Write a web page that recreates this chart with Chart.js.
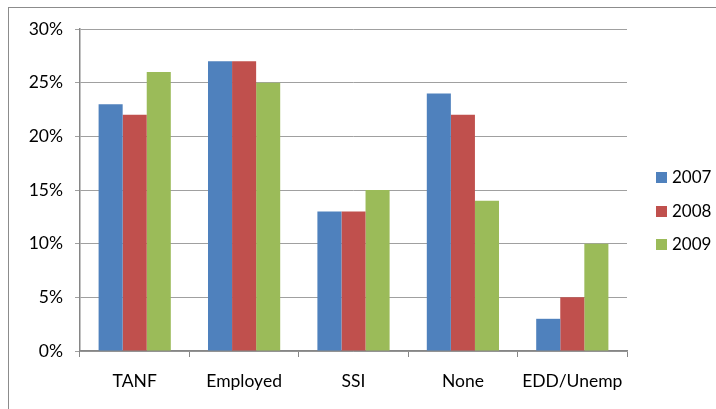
<!DOCTYPE html>
<html>
<head>
<meta charset="utf-8">
<script src="https://cdn.jsdelivr.net/npm/chart.js@4/dist/chart.umd.min.js"></script>
<style>
  html, body { margin: 0; padding: 0; background: #fff; }
  #wrap { position: relative; width: 716px; height: 409px; overflow: hidden; }
  #frame { position: absolute; left: 8px; top: 7px; width: 760px; height: 460px; border: 1px solid #8c8c8c; box-sizing: border-box; }
  #c { position: absolute; left: 0; top: 0; }
</style>
</head>
<body>
<div id="wrap">
  <div id="frame"></div>
  <canvas id="c" width="716" height="409"></canvas>
</div>
<script>
// data
const categories = ["TANF", "Employed", "SSI", "None", "EDD/Unemp"];
const years = ["2007", "2008", "2009"];
const values2007 = [23, 27, 13, 24, 3];
const values2008 = [22, 27, 13, 22, 5];
const values2009 = [26, 25, 15, 14, 10];
const yTicks = [0, 5, 10, 15, 20, 25, 30];

const colors = ["#4f81bd", "#c0504d", "#9bbb59"];
const fontFam = "Lato, 'Open Sans', sans-serif";

// simple legend drawn to the right of the plot
const sideLegend = {
  id: "sideLegend",
  afterDraw(chart) {
    const ctx = chart.ctx;
    const left = 656;
    const ys = [177, 211, 244];
    ctx.save();
    ctx.font = "17px " + fontFam;
    ctx.textBaseline = "middle";
    chart.data.datasets.forEach((ds, i) => {
      ctx.fillStyle = ds.backgroundColor;
      ctx.fillRect(left, ys[i] - 5, 11, 11);
      ctx.fillStyle = "#000";
      ctx.fillText(ds.label, left + 16, ys[i] + 1);
    });
    ctx.restore();
  }
};

new Chart(document.getElementById("c"), {
  type: "bar",
  data: {
    labels: categories,
    datasets: [
      { label: years[0], data: values2007, backgroundColor: colors[0] },
      { label: years[1], data: values2008, backgroundColor: colors[1] },
      { label: years[2], data: values2009, backgroundColor: colors[2] }
    ]
  },
  options: {
    responsive: false,
    animation: false,
    layout: { padding: { left: 0, right: 89, top: 29, bottom: 0 } },
    datasets: { bar: { barPercentage: 1, categoryPercentage: 0.66, borderWidth: 0 } },
    plugins: { legend: { display: false }, tooltip: { enabled: false } },
    scales: {
      x: {
        grid: { offset: true, drawOnChartArea: false, drawTicks: true, tickLength: 6, color: "#868686" },
        border: { color: "#868686", width: 1.5 },
        ticks: { color: "#000", font: { family: fontFam, size: 17.5 }, padding: 14 },
        afterFit(s) { s.height = 58; }
      },
      y: {
        min: 0, max: 30,
        afterBuildTicks(s) { s.ticks = yTicks.map(v => ({ value: v })); },
        grid: { color: "#a0a0a0", lineWidth: 1, tickLength: 5, drawTicks: true },
        border: { color: "#868686", width: 1.5 },
        ticks: { color: "#000", font: { family: fontFam, size: 17.5 }, padding: 12, callback: v => v + "%" },
        afterFit(s) { s.width = 80; }
      }
    }
  },
  plugins: [sideLegend]
});
</script>
</body>
</html>
